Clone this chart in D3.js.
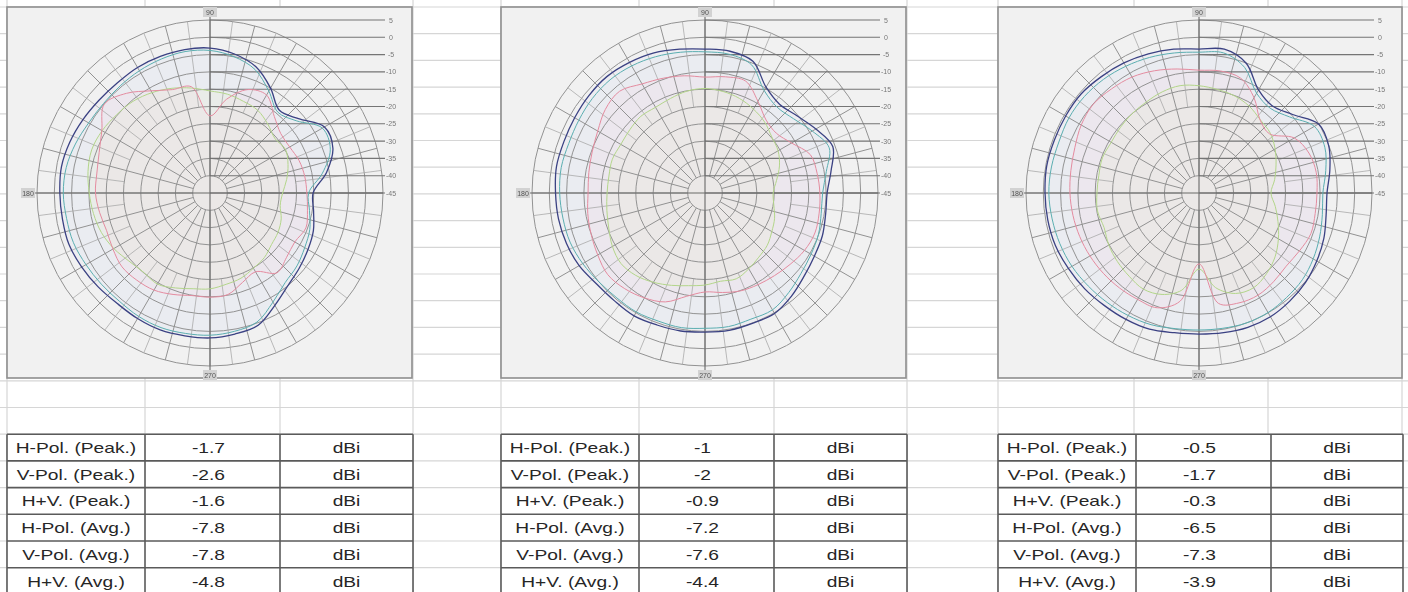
<!DOCTYPE html>
<html>
<head>
<meta charset="utf-8">
<script src="https://cdn.jsdelivr.net/npm/d3@7"></script>
<style>
  body { margin: 0; background: #fff; }
  svg { display: block; }
</style>
</head>
<body>
<div id="chart"></div>
<script>
// ring levels (dBi) shown on the scale at the right of each plot
const levels = [5, 0, -5, -10, -15, -20, -25, -30, -35, -40, -45];
const axisLabels = ['90', '180', '270'];
const angles = [0, 10, 20, 30, 40, 50, 60, 70, 80, 90, 100, 110, 120, 130, 140, 150, 160, 170,
  180, 190, 200, 210, 220, 230, 240, 250, 260, 270, 280, 290, 300, 310, 320, 330, 340, 350];

// traces, dBi per angle
const p1Total = [-15.2, -10.8, -7.2, -6.8, -11.6, -13.8, -10.0, -6.2, -4.2, -3.1, -2.9, -3.0, -3.1, -3.4, -3.2, -2.6, -1.9, -1.4,
  -1.6, -1.7, -1.6, -2.2, -2.8, -3.3, -3.1, -2.9, -3.1, -3.1, -3.6, -4.3, -7.5, -10.0, -11.3, -12.3, -13.2, -14.6];
const p1Teal = [-16.5, -12.0, -8.0, -7.5, -12.5, -14.5, -11.0, -7.0, -5.0, -3.8, -3.5, -3.8, -4.2, -4.6, -4.8, -4.5, -3.6, -2.8,
  -2.6, -2.9, -3.0, -3.6, -4.0, -4.2, -3.8, -3.6, -3.8, -3.9, -4.4, -5.3, -8.6, -11.2, -12.2, -13.4, -14.3, -15.8];
const p1Pink = [-17.0, -17.2, -17.6, -18.4, -18.3, -16.1, -12.3, -13.2, -17.5, -22.7, -13.8, -13.2, -10.9, -7.4, -5.1, -8.9, -10.9, -11.8,
  -11.9, -12.6, -13.2, -12.6, -11.8, -12.1, -12.6, -13.8, -14.9, -14.9, -15.2, -17.5, -18.7, -14.9, -16.1, -16.7, -15.5, -16.4];
const p1Green = [-24.0, -22.5, -21.0, -19.8, -20.5, -19.0, -17.4, -16.8, -16.0, -15.5, -14.2, -12.8, -11.5, -10.4, -9.8, -9.0, -8.6, -9.2,
  -10.1, -10.8, -11.6, -12.9, -14.4, -15.1, -14.6, -15.8, -16.9, -17.3, -18.2, -18.8, -19.9, -20.6, -21.8, -22.3, -23.1, -24.4];

const p2Total = [-9.7, -8.0, -5.7, -8.0, -10.3, -11.5, -9.7, -4.5, -3.4, -3.4, -2.8, -1.9, -1.4, -1.0, -1.2, -1.5, -1.6, -1.4,
  -1.8, -2.0, -2.4, -3.0, -4.1, -4.3, -4.0, -4.4, -4.5, -4.8, -4.7, -4.9, -4.8, -6.1, -7.6, -8.5, -8.9, -9.6];
const p2Teal = [-11.0, -9.4, -6.8, -9.2, -11.6, -12.6, -10.8, -5.6, -4.3, -4.2, -3.7, -3.1, -2.6, -2.3, -2.5, -2.9, -3.1, -2.8,
  -3.0, -3.3, -3.5, -4.2, -5.0, -5.4, -5.3, -5.6, -5.5, -5.9, -5.8, -6.2, -6.0, -7.4, -8.8, -9.6, -10.1, -10.9];
const p2Pink = [-11.8, -12.1, -12.6, -16.1, -18.1, -17.5, -14.4, -10.6, -10.9, -11.5, -10.6, -9.7, -8.6, -6.6, -7.4, -9.2, -10.3, -10.9,
  -11.2, -10.6, -10.0, -9.2, -8.3, -8.9, -10.0, -11.5, -14.7, -16.4, -15.8, -14.9, -14.4, -13.8, -12.9, -11.8, -11.2, -11.5];
const p2Green = [-25.3, -24.0, -22.1, -20.6, -19.8, -18.2, -17.0, -15.9, -15.2, -14.8, -15.1, -15.9, -16.4, -16.1, -16.6, -16.9, -16.5, -16.8,
  -16.7, -16.2, -15.4, -14.1, -13.3, -13.9, -15.2, -16.6, -17.8, -18.4, -19.1, -18.6, -19.7, -20.8, -21.5, -22.7, -23.6, -24.8];

const p3Total = [-8.0, -6.6, -5.1, -5.1, -9.7, -12.1, -10.6, -5.1, -2.8, -3.4, -2.8, -2.2, -1.6, -1.1, -0.5, -0.5, -0.5, -0.3,
  -0.5, -0.6, -0.8, -1.4, -1.9, -2.5, -2.8, -3.1, -4.0, -4.2, -4.0, -3.7, -3.7, -4.2, -4.8, -5.7, -6.6, -7.7];
const p3Teal = [-9.2, -7.8, -6.3, -6.5, -10.8, -13.0, -11.7, -6.4, -3.9, -4.3, -3.9, -3.3, -2.7, -2.1, -1.7, -1.6, -1.9, -1.7,
  -1.6, -1.9, -2.2, -2.6, -3.2, -3.7, -4.1, -4.5, -5.2, -5.4, -5.3, -5.0, -5.1, -5.6, -6.0, -6.9, -7.9, -8.8];
const p3Pink = [-10.9, -10.6, -11.2, -13.2, -18.4, -17.5, -13.2, -9.7, -9.2, -9.5, -8.6, -7.4, -6.3, -5.7, -5.1, -5.7, -6.8, -7.4,
  -7.7, -8.0, -8.3, -8.6, -8.9, -9.2, -9.5, -9.7, -13.2, -24.5, -12.6, -11.2, -10.9, -11.5, -12.1, -11.5, -10.6, -10.9];
const p3Green = [-24.2, -22.8, -21.3, -19.6, -18.1, -17.4, -16.0, -15.1, -14.6, -14.0, -13.5, -13.9, -14.6, -15.0, -15.4, -15.7, -15.3, -15.6,
  -15.5, -15.2, -15.8, -14.9, -14.2, -13.6, -12.9, -13.8, -16.5, -23.0, -17.2, -14.1, -13.4, -14.6, -16.3, -18.5, -20.7, -22.6];

// table
const rowLabels = ['H-Pol. (Peak.)', 'V-Pol. (Peak.)', 'H+V. (Peak.)', 'H-Pol. (Avg.)', 'V-Pol. (Avg.)', 'H+V. (Avg.)'];
const gain1 = [-1.7, -2.6, -1.6, -7.8, -7.8, -4.8];
const gain2 = [-1, -2, -0.9, -7.2, -7.6, -4.4];
const gain3 = [-0.5, -1.7, -0.3, -6.5, -7.3, -3.9];
const unit = 'dBi';

const W = 1408;
const H = 592;
const R = 173;
const cy = 193;
const rowH = 26.7;
const colX = [7, 145, 280, 413, 501, 639, 774, 907, 998, 1134, 1268, 1402];

const panels = [
  { x0: 7, x1: 412, cx: 210, traces: [p1Total, p1Teal, p1Pink, p1Green], gain: gain1 },
  { x0: 501, x1: 906, cx: 705, traces: [p2Total, p2Teal, p2Pink, p2Green], gain: gain2 },
  { x0: 998, x1: 1402, cx: 1199, traces: [p3Total, p3Teal, p3Pink, p3Green], gain: gain3 },
];
const stroke = ['#3b4283', '#5aaeb0', '#e48b9f', '#b3d58a'];
const fill = ['rgba(185,185,245,0.09)', 'rgba(170,225,230,0.05)', 'rgba(250,180,200,0.08)', 'rgba(225,240,170,0.10)'];

const r = d3.scaleLinear().domain([-45, 5]).range([0, R]);
const toRad = a => (90 - a) * Math.PI / 180;

const svg = d3.select('#chart').append('svg')
  .attr('width', W)
  .attr('height', H)
  .style('font-family', '"Liberation Sans", Arial, sans-serif');

const soft = svg.append('defs').append('filter').attr('id', 'soft');
soft.append('feGaussianBlur').attr('stdDeviation', 0.35);

svg.append('rect').attr('width', W).attr('height', H).attr('fill', '#fff');

// spreadsheet grid
const rows = d3.range(0, 23).map(k => 7 + k * rowH);
svg.append('g').selectAll('line').data(rows).join('line')
  .attr('x1', 0).attr('x2', W).attr('y1', d => d).attr('y2', d => d)
  .attr('stroke', '#d6d6d6').attr('stroke-width', 1.2);
svg.append('g').selectAll('line').data(colX).join('line')
  .attr('x1', d => d).attr('x2', d => d).attr('y1', 0).attr('y2', H)
  .attr('stroke', '#d6d6d6').attr('stroke-width', 1.2);

const line = d3.lineRadial()
  .angle((d, i) => toRad(angles[i]))
  .radius(d => r(d))
  .curve(d3.curveCatmullRomClosed);

panels.forEach((p) => {
  svg.append('rect')
    .attr('x', p.x0).attr('y', 7)
    .attr('width', p.x1 - p.x0).attr('height', 371)
    .attr('fill', '#f1f1f1')
    .attr('stroke', '#8e8e8e').attr('stroke-width', 1.6);

  const g = svg.append('g')
    .attr('transform', `translate(${p.cx},${cy})`)
    .attr('filter', 'url(#soft)');

  // filled areas under the traces
  g.selectAll('path.fill').data(p.traces).join('path')
    .attr('class', 'fill')
    .attr('d', d => line(d))
    .attr('fill', (d, i) => fill[i])
    .attr('stroke', 'none');

  // rings
  g.selectAll('circle').data(levels.filter(l => l > -45)).join('circle')
    .attr('r', d => r(d))
    .attr('fill', 'none')
    .attr('stroke', '#929292').attr('stroke-width', 1);

  // spokes every 15 deg, extra ones between them on the outer rings
  const spokes = d3.range(0, 360, 15);
  g.selectAll('line.sp').data(spokes).join('line')
    .attr('class', 'sp')
    .attr('x1', d => r(-40) * Math.cos(d * Math.PI / 180))
    .attr('y1', d => -r(-40) * Math.sin(d * Math.PI / 180))
    .attr('x2', d => R * Math.cos(d * Math.PI / 180))
    .attr('y2', d => -R * Math.sin(d * Math.PI / 180))
    .attr('stroke', '#929292').attr('stroke-width', 1);
  g.selectAll('line.sp2').data(spokes.map(a => a + 7.5)).join('line')
    .attr('class', 'sp2')
    .attr('x1', d => r(-20) * Math.cos(d * Math.PI / 180))
    .attr('y1', d => -r(-20) * Math.sin(d * Math.PI / 180))
    .attr('x2', d => R * Math.cos(d * Math.PI / 180))
    .attr('y2', d => -R * Math.sin(d * Math.PI / 180))
    .attr('stroke', '#aaaaaa').attr('stroke-width', 0.8);

  // level scale lines and labels
  g.selectAll('line.lv').data(levels).join('line')
    .attr('class', 'lv')
    .attr('x1', 0).attr('x2', R + 2)
    .attr('y1', d => -r(d)).attr('y2', d => -r(d))
    .attr('stroke', '#747474').attr('stroke-width', 1.1);
  g.selectAll('text.lv').data(levels).join('text')
    .attr('class', 'lv')
    .attr('x', R + 8).attr('y', d => -r(d) + 2.5)
    .attr('font-size', 7).attr('fill', '#777')
    .attr('text-anchor', 'middle')
    .text(d => d);

  // axes
  g.append('line').attr('x1', -R - 4).attr('x2', R).attr('y1', 0).attr('y2', 0)
    .attr('stroke', '#6a6a6a').attr('stroke-width', 1.1);
  g.append('line').attr('x1', 0).attr('x2', 0).attr('y1', -R - 8).attr('y2', R + 8)
    .attr('stroke', '#6a6a6a').attr('stroke-width', 1.1);
  const labPos = [[0, -R - 8], [-R - 9, 0], [0, R + 9]];
  axisLabels.forEach((t, i) => {
    g.append('rect')
      .attr('x', labPos[i][0] - 7).attr('y', labPos[i][1] - 5)
      .attr('width', 14).attr('height', 10)
      .attr('fill', '#d2d2d2');
    g.append('text')
      .attr('x', labPos[i][0]).attr('y', labPos[i][1] + 2.5)
      .attr('font-size', 7).attr('fill', '#555')
      .attr('text-anchor', 'middle')
      .text(t);
  });

  // traces, the total last so it sits on top
  g.selectAll('path.tr').data(p.traces.slice().reverse()).join('path')
    .attr('class', 'tr')
    .attr('d', d => line(d))
    .attr('fill', 'none')
    .attr('stroke', (d, i) => stroke[3 - i])
    .attr('stroke-width', (d, i) => (i === 3 ? 1.3 : 1));

  // table
  const tx = [p.x0, p.x0 + 138, p.x0 + 273, p.x1 + 1];
  const ty = 7 + 16 * rowH;
  const t = svg.append('g');
  t.append('rect')
    .attr('x', tx[0]).attr('y', ty)
    .attr('width', tx[3] - tx[0]).attr('height', rowH * 6)
    .attr('fill', '#fff');
  d3.range(0, 7).forEach((k) => {
    t.append('line')
      .attr('x1', tx[0]).attr('x2', tx[3])
      .attr('y1', ty + k * rowH).attr('y2', ty + k * rowH)
      .attr('stroke', '#5a5a5a').attr('stroke-width', 1.6);
  });
  tx.forEach((x) => {
    t.append('line')
      .attr('x1', x).attr('x2', x)
      .attr('y1', ty).attr('y2', ty + 6 * rowH)
      .attr('stroke', '#5a5a5a').attr('stroke-width', 1.6);
  });
  const cell = (x, y, s) => t.append('text')
    .attr('transform', `translate(${x},${y}) scale(1.28,1)`)
    .attr('text-anchor', 'middle').attr('font-size', 15).attr('fill', '#262626')
    .text(s);
  rowLabels.forEach((lab, k) => {
    const yy = ty + k * rowH + rowH / 2 + 5.5;
    cell((tx[0] + tx[1]) / 2, yy, lab);
    cell((tx[1] + tx[2]) / 2 - 4, yy, p.gain[k]);
    cell((tx[2] + tx[3]) / 2, yy, unit);
  });
});
</script>
</body>
</html>
